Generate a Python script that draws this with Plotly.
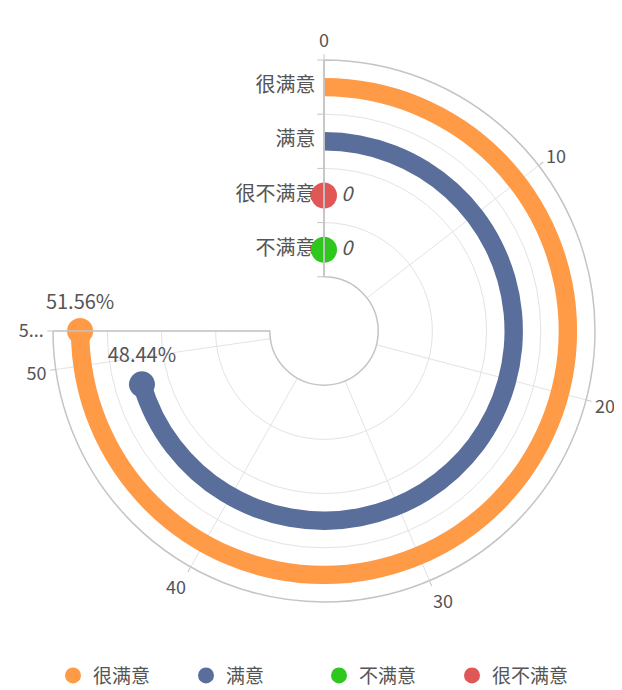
import plotly.graph_objects as go

# series (legend order)
series_names = ["很满意", "满意", "不满意", "很不满意"]
series_values = [51.56, 48.44, 0, 0]
series_colors = ["#FF9A47", "#5A6E9C", "#2EC71E", "#E05757"]

# radius categories, inside -> outside
radius_categories = ["不满意", "很不满意", "满意", "很满意"]

# angle axis
angle_max = 51.56
angle_ticks = [0, 10, 20, 30, 40, 50, 51.56]
angle_ticktext = ["0", "10", "20", "30", "40", "50", "5..."]

SPAN = 270  # degrees covered by the angle axis
FONT = "Noto Sans CJK SC"
BAR_W = 0.34


def to_deg(v):
    return v * SPAN / angle_max


fig = go.Figure()

# bars
for name, val, color in zip(series_names, series_values, series_colors):
    ring = radius_categories.index(name)
    if val > 0:
        fig.add_trace(go.Barpolar(
            r=[BAR_W], base=[ring + 0.5 - BAR_W / 2],
            theta=[to_deg(val) / 2], width=[to_deg(val)],
            marker=dict(color=color, line=dict(width=0)),
            showlegend=False, hoverinfo="skip",
        ))

# radius category labels
fig.add_trace(go.Scatterpolar(
    r=[i + 0.5 for i in range(len(radius_categories))],
    theta=[0] * len(radius_categories),
    text=radius_categories, mode="markers+text", textposition="middle left",
    marker=dict(size=12, opacity=0),
    textfont=dict(family=FONT, size=20, color="#555"),
    cliponaxis=False, showlegend=False, hoverinfo="skip",
))

# end dots + labels
for name, val, color in zip(series_names, series_values, series_colors):
    ring = radius_categories.index(name)
    label = f"{val:.2f}%" if val else "0"
    fig.add_trace(go.Scatterpolar(
        r=[ring + 0.5], theta=[to_deg(val)], name=name,
        mode="markers+text", text=[label],
        textposition="top center" if val else "middle right",
        textfont=dict(family=FONT, size=20, color="#555",
                      style="normal" if val else "italic"),
        marker=dict(size=26, color=color),
        cliponaxis=False,
    ))

fig.update_layout(
    width=622, height=690,
    margin=dict(l=0, r=0, t=0, b=0),
    paper_bgcolor="white",
    font=dict(family=FONT, size=20, color="#555"),
    polar=dict(
        domain=dict(x=[45 / 622, 587 / 622], y=[96 / 690, 638 / 690]),
        sector=[-180, 90],
        hole=0.2,
        bgcolor="white",
        angularaxis=dict(
            rotation=90, direction="clockwise",
            tickmode="array",
            tickvals=[to_deg(t) for t in angle_ticks], ticktext=angle_ticktext,
            showline=True, linecolor="#c4c4c4", linewidth=1.5,
            showgrid=True, gridcolor="#e3e3e3", gridwidth=1.3,
            ticks="outside", ticklen=5, tickcolor="#c4c4c4",
            tickfont=dict(family=FONT, size=18, color="#555"),
        ),
        radialaxis=dict(
            range=[0, 4], angle=90, side="counterclockwise",
            tickvals=[0, 1, 2, 3, 4], showticklabels=False,
            ticks="outside", ticklen=6, tickcolor="#c4c4c4",
            showline=True, linecolor="#c4c4c4", linewidth=1.5,
            gridcolor="#e3e3e3", gridwidth=1.3,
        ),
    ),
    legend=dict(
        orientation="h", x=0.5, xanchor="center", y=0.005, yanchor="bottom",
        font=dict(family=FONT, size=19, color="#555"),
        itemsizing="trace", entrywidth=88,
    ),
)

fig.write_html("out.html")
